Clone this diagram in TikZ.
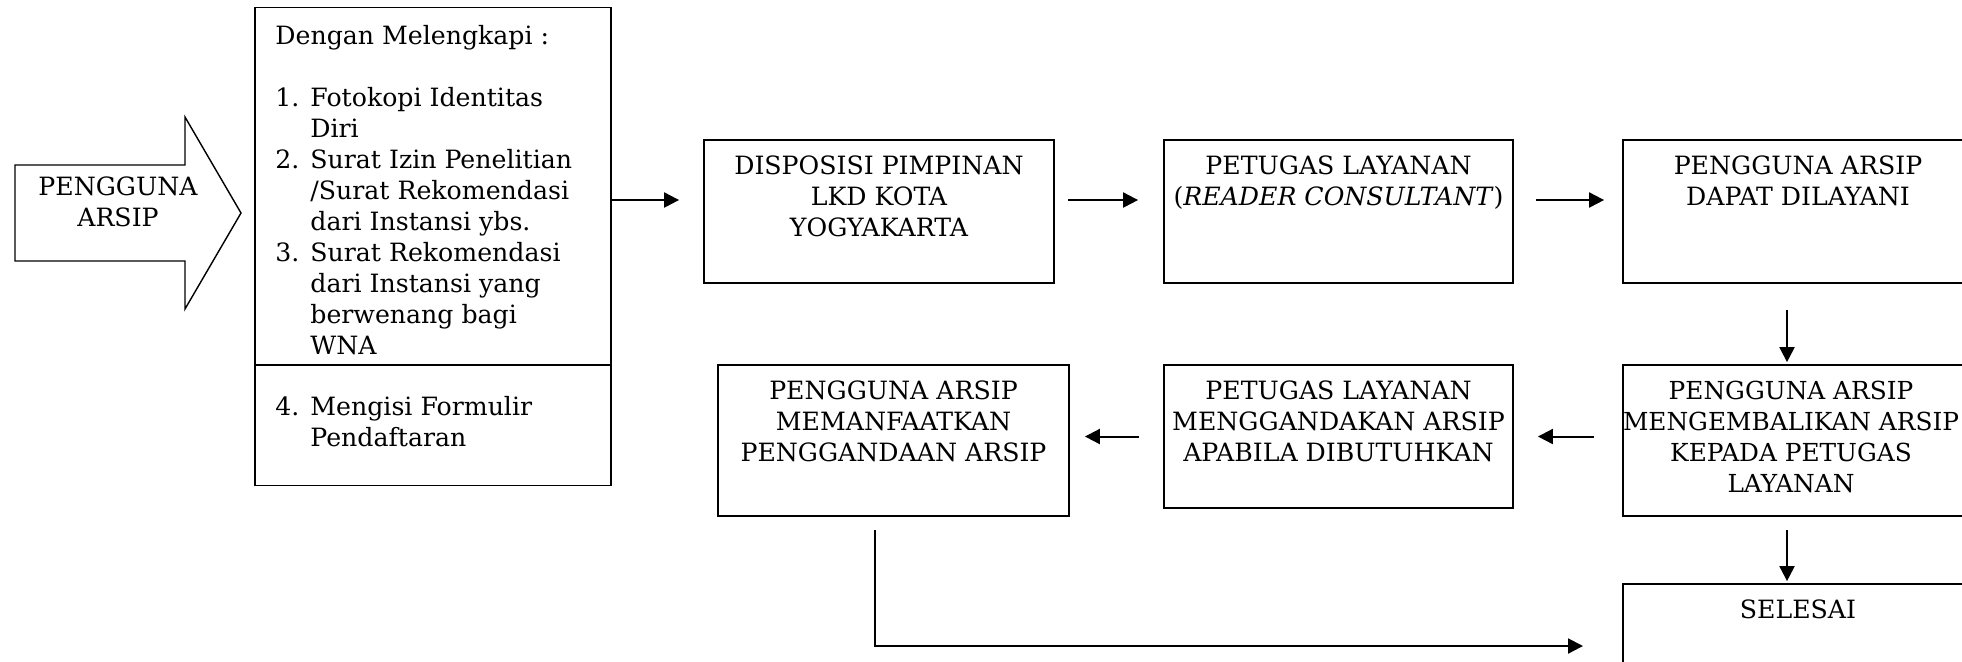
\documentclass[tikz,border=0pt]{standalone}
\usepackage{fontspec}
\setmainfont{DejaVu Serif}
\usetikzlibrary{arrows.meta}
\newcommand\fs{\rule{0pt}{10pt}}
\tikzset{
  box/.style={draw, line width=0.9pt, rectangle, inner sep=0pt},
  txt/.style={inner sep=0pt, align=center, anchor=north, font=\fontsize{12.6pt}{15.5pt}\selectfont},
  ltxt/.style={inner sep=0pt, align=left, anchor=north west, font=\fontsize{12.6pt}{15.5pt}\selectfont},
  arr/.style={line width=1pt, -{Triangle[length=7.5pt,width=7.5pt]}},
}
\begin{document}
\begin{tikzpicture}[x=0.5pt,y=-0.5pt]
\useasboundingbox (0,0) rectangle (1962,661);
\clip (0,0) rectangle (1962,661);
% big input arrow
\draw[line width=0.7pt] (15,165) -- (185,165) -- (185,117) -- (241,213) -- (185,309) -- (185,261) -- (15,261) -- cycle;
\node[txt] (pengguna) at (118,175) {\fs PENGGUNA\\ARSIP};
% left requirements box
\node[box, minimum width=178pt, minimum height=239pt] (kiri) at (433,246.5) {};
\draw[line width=0.9pt] (kiri.west |- 0,365) -- (kiri.east |- 0,365);
\node[ltxt] (syarat) at (275,24) {\fs Dengan Melengkapi :\\[15.5pt]
\makebox[17.5pt][l]{1.}Fotokopi Identitas\\
\hspace*{17.5pt}Diri\\
\makebox[17.5pt][l]{2.}Surat Izin Penelitian\\
\hspace*{17.5pt}/Surat Rekomendasi\\
\hspace*{17.5pt}dari Instansi ybs.\\
\makebox[17.5pt][l]{3.}Surat Rekomendasi\\
\hspace*{17.5pt}dari Instansi yang\\
\hspace*{17.5pt}berwenang bagi\\
\hspace*{17.5pt}WNA};
\node[ltxt] (syarat4) at (275,395) {\fs\makebox[17.5pt][l]{4.}Mengisi Formulir\\
\hspace*{17.5pt}Pendaftaran};
% process boxes
\node[box, minimum width=175pt, minimum height=71.5pt] (disp) at (879,211.5) {};
\node[txt] (dispT) at (879,154) {\fs DISPOSISI PIMPINAN\\LKD KOTA\\YOGYAKARTA};
\node[box, minimum width=174.5pt, minimum height=71.5pt] (pet) at (1338.5,211.5) {};
\node[txt] (petT) at (1338.5,154) {\fs PETUGAS LAYANAN\\(\textit{READER CONSULTANT})};
\node[box, minimum width=175pt, minimum height=71.5pt] (dapat) at (1798,211.5) {};
\node[txt] (dapatT) at (1798,154) {\fs PENGGUNA ARSIP\\DAPAT DILAYANI};
\node[box, minimum width=175pt, minimum height=75.5pt] (kembali) at (1798,440.5) {};
\node[txt, font=\fontsize{12.4pt}{15.5pt}\selectfont] (kembaliT) at (1791,379) {\fs PENGGUNA ARSIP\\MENGEMBALIKAN ARSIP\\KEPADA PETUGAS\\LAYANAN};
\node[box, minimum width=174.5pt, minimum height=71.5pt] (ganda) at (1338.5,436.5) {};
\node[txt] (gandaT) at (1338.5,379) {\fs PETUGAS LAYANAN\\MENGGANDAKAN ARSIP\\APABILA DIBUTUHKAN};
\node[box, minimum width=175.5pt, minimum height=75.5pt] (manfaat) at (893.5,440.5) {};
\node[txt] (manfaatT) at (893.5,379) {\fs PENGGUNA ARSIP\\MEMANFAATKAN\\PENGGANDAAN ARSIP};
\node[box, minimum width=175pt, minimum height=78pt] (selesai) at (1798,662) {};
\node[txt] (selesaiT) at (1798,598) {\fs SELESAI};
% connectors
\coordinate (row1) at (0,200);
\draw[arr, shorten >=12pt] (kiri.east |- row1) -- (disp.west |- row1);
\draw[arr, shorten <=6.5pt, shorten >=12.5pt] (disp.east |- row1) -- (pet.west |- row1);
\draw[arr, shorten <=11pt, shorten >=9pt] (pet.east |- row1) -- (dapat.west |- row1);
\draw[arr, shorten <=13pt, shorten >=1pt] ([xshift=-5.5pt]dapat.south) -- ([xshift=-5.5pt]kembali.north);
\draw[arr, shorten <=14pt, shorten >=12pt] (kembali.west |- ganda.east) -- (ganda.east);
\draw[arr, shorten <=12pt, shorten >=7.5pt] (ganda.west) -- (manfaat.east |- ganda.west);
\draw[arr, shorten <=6.5pt, shorten >=1pt] ([xshift=-5.5pt]kembali.south) -- ([xshift=-5.5pt]selesai.north);
\coordinate (lend) at (1583,646);
\draw[arr, shorten <=6.5pt] ([xshift=-9.25pt]manfaat.south) |- (lend);
\end{tikzpicture}
\end{document}
